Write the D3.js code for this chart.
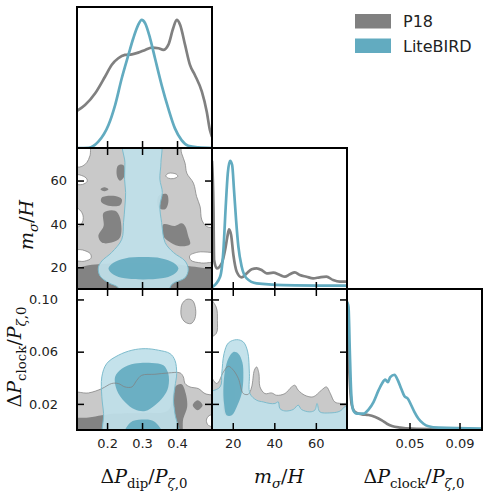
<!DOCTYPE html>
<html>
<head>
<meta charset="utf-8">
<script src="https://cdn.jsdelivr.net/npm/d3@7"></script>
<style>
  body { margin: 0; background: #fff; }
  svg { display: block; }
</style>
</head>
<body>
<div class="corner"></div>
<script>
// 1D marginals, [value, density] with the peak normalised to 1
const dipP18 = [[0.114,0.289],[0.137,0.335],[0.166,0.427],[0.194,0.556],[0.213,0.648],[0.232,0.700],[0.251,0.726],[0.271,0.731],[0.289,0.744],[0.309,0.765],[0.328,0.783],[0.347,0.778],[0.361,0.765],[0.375,0.804],[0.389,0.934],[0.399,1.0],[0.409,0.960],[0.423,0.804],[0.437,0.648],[0.451,0.570],[0.471,0.439],[0.485,0.283],[0.494,0.140],[0.5,0.088]];
const dipLB = [[0.114,0],[0.147,0.002],[0.175,0.049],[0.204,0.179],[0.223,0.335],[0.242,0.544],[0.261,0.726],[0.275,0.856],[0.289,0.960],[0.299,1.0],[0.309,0.973],[0.323,0.856],[0.337,0.700],[0.356,0.491],[0.375,0.309],[0.394,0.153],[0.413,0.062],[0.432,0.018],[0.461,0.005],[0.5,0]];
const mP18 = [[10,1.0],[10.7,0.642],[11.0,0.226],[12.3,0.161],[14.7,0.200],[16.3,0.304],[17.4,0.408],[18.2,0.466],[19.2,0.421],[20.3,0.265],[21.9,0.135],[24.3,0.091],[26.7,0.122],[29.1,0.154],[31.5,0.161],[33.9,0.148],[36.3,0.122],[39.5,0.127],[42.7,0.109],[45.1,0.096],[47.5,0.115],[49.9,0.130],[52.3,0.109],[55.5,0.096],[58.7,0.083],[61.9,0.091],[65.1,0.096],[68.3,0.070],[71.5,0.057],[75,0.057]];
const mLB = [[10,0.013],[13.9,0.096],[15.5,0.304],[16.6,0.642],[17.6,0.903],[18.7,1.0],[19.7,0.967],[20.6,0.772],[21.6,0.538],[22.7,0.330],[24.3,0.174],[26.7,0.083],[31.5,0.044],[44.3,0.031],[75,0.026]];
const clockP18 = [[0,1.0],[0.0018,0.466],[0.0039,0.193],[0.0066,0.140],[0.0119,0.122],[0.0172,0.117],[0.0226,0.101],[0.0279,0.075],[0.0319,0.049],[0.0359,0.031],[0.0426,0.018],[0.0519,0.010],[0.0786,0.005],[0.108,0.003]];
const clockLB = [[0,1.0],[0.0012,0.96],[0.0023,0.595],[0.0034,0.283],[0.005,0.153],[0.0079,0.127],[0.0132,0.127],[0.0172,0.159],[0.0212,0.218],[0.0252,0.309],[0.0279,0.361],[0.0306,0.393],[0.0327,0.374],[0.0346,0.413],[0.038,0.431],[0.0407,0.387],[0.0434,0.322],[0.046,0.263],[0.0487,0.244],[0.0514,0.193],[0.054,0.140],[0.0572,0.088],[0.0612,0.049],[0.0652,0.029],[0.0732,0.018],[0.108,0.01]];

// 2D contours (68% inner / 95% outer), each a list of rings of [x, y]
// dip vs m_sigma
const dipM_P18_95 = [
  [[0.161,78],[0.151,71.4],[0.142,68.3],[0.128,66.5],[0.10,65.6],[0.10,63.2],[0.122,62.6],[0.140,61.2],[0.143,59.6],[0.130,58.2],[0.10,57.6],[0.10,47.8],[0.118,47.0],[0.130,44.5],[0.131,41.5],[0.120,38.8],[0.10,37.8],[0.10,28.8],[0.130,28.0],[0.152,26.3],[0.154,24.2],[0.135,22.8],[0.10,22.3],[0.09,5],[0.53,5],[0.53,21.6],[0.470,22.0],[0.440,23.2],[0.436,25.3],[0.460,27.0],[0.53,27.6],[0.51,37.5],[0.485,38.8],[0.471,41.8],[0.466,48.0],[0.456,52.6],[0.447,58.8],[0.428,63.4],[0.423,68.0],[0.413,72.6],[0.404,78]],
  [[0.368,62.2],[0.375,63.3],[0.387,63.4],[0.399,62.8],[0.402,61.9],[0.390,60.9],[0.375,61.1]]
];
const dipM_P18_68 = [
  [[0.09,17.0],[0.137,20.6],[0.175,21.4],[0.204,21.8],[0.30,21.6],[0.394,21.4],[0.432,20.6],[0.471,19.8],[0.53,18.0],[0.53,5],[0.09,5]],
  [[0.190,45.2],[0.223,46.1],[0.237,42.9],[0.237,33.7],[0.213,31.4],[0.185,31.4],[0.175,34.4],[0.190,39.1]],
  [[0.185,52.2],[0.223,52.9],[0.242,51.4],[0.237,48.6],[0.199,48.6],[0.183,50.2]],
  [[0.181,56.0],[0.192,56.9],[0.204,56.0],[0.192,55.1]],
  [[0.231,66.8],[0.247,67.1],[0.250,62.2],[0.237,59.9],[0.228,62.2]],
  [[0.347,52.9],[0.371,53.7],[0.375,49.9],[0.366,46.8],[0.347,47.5]],
  [[0.361,39.8],[0.394,39.1],[0.413,40.3],[0.423,39.1],[0.432,34.4],[0.437,30.6],[0.404,29.8],[0.375,32.1],[0.361,34.4]]
];
const dipM_LB_95 = [
  [[0.247,78],[0.251,68.3],[0.250,60.6],[0.253,54.5],[0.251,48.3],[0.247,40.6],[0.242,32.9],[0.213,26.8],[0.185,22.9],[0.175,19.8],[0.180,16.0],[0.204,12.9],[0.232,10.6],[0.242,5],[0.366,5],[0.385,12.1],[0.423,15.2],[0.432,19.1],[0.423,22.9],[0.390,26.8],[0.366,31.4],[0.356,40.6],[0.351,48.3],[0.358,54.5],[0.351,60.6],[0.354,68.3],[0.351,78]]
];
const dipM_LB_68 = [
  [[0.204,19.5],[0.218,22.1],[0.251,24.1],[0.304,24.7],[0.356,24.1],[0.390,22.1],[0.404,19.5],[0.390,16.7],[0.356,14.9],[0.304,14.4],[0.251,14.9],[0.218,16.7]]
];

// dip vs clock
const dipClock_P18_95 = [
  [[0.09,0.0279],[0.147,0.0284],[0.185,0.0317],[0.213,0.0356],[0.232,0.0356],[0.251,0.0330],[0.271,0.0330],[0.285,0.0381],[0.299,0.0419],[0.337,0.0427],[0.375,0.0437],[0.409,0.0437],[0.418,0.0407],[0.423,0.0356],[0.437,0.0330],[0.461,0.0317],[0.480,0.0279],[0.53,0.024],[0.53,-0.01],[0.09,-0.01]],
  [[0.411,0.0911],[0.415,0.0968],[0.428,0.1001],[0.444,0.0993],[0.453,0.0929],[0.451,0.0853],[0.440,0.0815],[0.423,0.0827],[0.413,0.0865]],
  [[0.52,0.0120],[0.492,0.0110],[0.484,0.0075],[0.490,0.0035],[0.52,0.0028]]
];
const dipClock_P18_68 = [
  [[0.09,0.0075],[0.147,0.0095],[0.185,0.0113],[0.223,0.0126],[0.299,0.0131],[0.375,0.0152],[0.394,0.0330],[0.413,0.0350],[0.425,0.0279],[0.429,0.0177],[0.418,0.0088],[0.404,-0.01],[0.09,-0.01]],
  [[0.445,0.0190],[0.459,0.0228],[0.473,0.0190],[0.459,0.0152]]
];
const dipClock_LB_95 = [
  [[0.194,-0.01],[0.190,0.0126],[0.185,0.0254],[0.185,0.0407],[0.199,0.0509],[0.232,0.0572],[0.271,0.0611],[0.309,0.0623],[0.347,0.0611],[0.380,0.0585],[0.394,0.0534],[0.399,0.0432],[0.394,0.0330],[0.390,0.0228],[0.394,0.0126],[0.404,-0.01]]
];
const dipClock_LB_68 = [
  [[0.223,0.0407],[0.242,0.0470],[0.280,0.0509],[0.328,0.0514],[0.361,0.0496],[0.375,0.0432],[0.375,0.0330],[0.361,0.0254],[0.337,0.0190],[0.309,0.0146],[0.280,0.0157],[0.251,0.0215],[0.228,0.0305]],
  [[0.242,-0.01],[0.266,0.0055],[0.299,0.0080],[0.337,0.0062],[0.366,-0.01]]
];

// m_sigma vs clock
const mClock_P18_95 = [
  [[8,0.0432],[12.3,0.0356],[15.5,0.0445],[17.9,0.0488],[20.3,0.0458],[22.7,0.0394],[25.1,0.0279],[27.5,0.0274],[29.1,0.0330],[30.4,0.0458],[31.5,0.0483],[32.6,0.0432],[33.1,0.0330],[35.5,0.0279],[38.7,0.0284],[41.1,0.0266],[45.1,0.0279],[48.3,0.0330],[49.9,0.0343],[51.5,0.0305],[54.7,0.0266],[58.7,0.0254],[62.7,0.0305],[65.1,0.0330],[67.0,0.0279],[69.1,0.0215],[72.3,0.0203],[80,0.0197],[80,-0.01],[5,-0.01]],
  [[8,0.1019],[12.0,0.0942],[12.6,0.0840],[12.0,0.0738],[8,0.0713]]
];
const mClock_P18_68 = [
  [[15.5,0.0330],[17.9,0.0411],[20.3,0.0356],[21.1,0.0228],[19.5,0.0113],[16.3,0.0113],[15.2,0.0228]]
];
const mClock_LB_95 = [
  [[5,0.0254],[13.9,0.0330],[14.7,0.0432],[15.8,0.0585],[17.9,0.0667],[21.9,0.0692],[25.1,0.0674],[27.2,0.0598],[28.0,0.0432],[28.3,0.0279],[31.5,0.0228],[34.7,0.0215],[37.9,0.0203],[40.3,0.0203],[41.9,0.0215],[42.7,0.0164],[45.1,0.0146],[49.1,0.0157],[51.5,0.0190],[53.1,0.0157],[57.1,0.0139],[59.5,0.0152],[60.6,0.0203],[61.9,0.0139],[66.7,0.0131],[70.7,0.0139],[72.3,0.0152],[73.9,0.0177],[80,0.0177],[80,-0.01],[5,-0.01]]
];
const mClock_LB_68 = [
  [[16.3,0.0458],[17.9,0.0547],[20.3,0.0598],[22.7,0.0585],[24.6,0.0521],[25.1,0.0407],[24.3,0.0279],[21.9,0.0177],[19.5,0.0113],[17.1,0.0113],[15.8,0.0203],[15.5,0.0330]]
];

// ticks and legend
const dipTicks = [0.2, 0.3, 0.4];
const mTicks = [20, 40, 60];
const clockTicksX = [0.05, 0.09];
const clockTicksY = [0.02, 0.06, 0.10];
const seriesNames = ["P18", "LiteBIRD"];
const seriesColors = ["#808080", "#62abc0"];

const width = 487, height = 498;
const svg = d3.select(".corner").append("svg")
    .attr("width", width)
    .attr("height", height);

const colX = [77, 212, 347], rowY = [7, 148, 289], pw = 135, ph = 141;

const xDip = d3.scaleLinear().domain([0.114, 0.5]).range([colX[0], colX[0] + pw]);
const xM = d3.scaleLinear().domain([10, 75]).range([colX[1], colX[1] + pw]);
const xClock = d3.scaleLinear().domain([0, 0.108]).range([colX[2], colX[2] + pw]);
const yM = d3.scaleLinear().domain([10, 75]).range([rowY[1] + ph, rowY[1]]);
const yClock = d3.scaleLinear().domain([0, 0.108]).range([rowY[2] + ph, rowY[2]]);
const yDens = rowY.map(t => d3.scaleLinear().domain([0, 1.1]).range([t + ph, t]));

let clipCount = 0;
function panel(c, r) {
    const id = "clip" + (clipCount++);
    svg.append("clipPath").attr("id", id)
        .append("rect")
        .attr("x", colX[c]).attr("y", rowY[r])
        .attr("width", pw).attr("height", ph);
    return svg.append("g").attr("clip-path", `url(#${id})`);
}

function ringsPath(rings, x, y) {
    const line = d3.line()
        .x(d => x(d[0]))
        .y(d => y(d[1]))
        .curve(d3.curveCatmullRomClosed.alpha(0.5));
    return rings.map(r => line(r)).join(" ");
}

function draw2D(c, r, x, y, p95, p68, l95, l68) {
    const g = panel(c, r);
    g.append("path").attr("d", ringsPath(p95, x, y))
        .attr("fill", "#c9c9c9").attr("fill-rule", "evenodd");
    g.append("path").attr("d", ringsPath(p68, x, y))
        .attr("fill", "#838383").attr("fill-rule", "evenodd");
    g.append("path").attr("d", ringsPath(l95, x, y))
        .attr("fill", "#c0e0e9").attr("fill-opacity", 0.93).attr("fill-rule", "evenodd");
    g.append("path").attr("d", ringsPath(l68, x, y))
        .attr("fill", "#5fa8be").attr("fill-opacity", 0.88).attr("fill-rule", "evenodd");
    // contour edges on top
    g.append("path").attr("d", ringsPath(p95, x, y))
        .attr("fill", "none").attr("stroke", "#808080").attr("stroke-opacity", 0.75).attr("stroke-width", 1);
    g.append("path").attr("d", ringsPath(l95, x, y))
        .attr("fill", "none").attr("stroke", "#7dbccd").attr("stroke-width", 1);
}

function draw1D(c, x, p18, lb) {
    const g = panel(c, c);
    const line = d3.line()
        .x(d => x(d[0]))
        .y(d => yDens[c](d[1]))
        .curve(d3.curveMonotoneX);
    [p18, lb].forEach((s, i) => {
        g.append("path")
            .attr("d", line(s))
            .attr("fill", "none")
            .attr("stroke", seriesColors[i])
            .attr("stroke-width", 2.7)
            .attr("stroke-linejoin", "round");
    });
}

draw2D(0, 1, xDip, yM, dipM_P18_95, dipM_P18_68, dipM_LB_95, dipM_LB_68);
draw2D(0, 2, xDip, yClock, dipClock_P18_95, dipClock_P18_68, dipClock_LB_95, dipClock_LB_68);
draw2D(1, 2, xM, yClock, mClock_P18_95, mClock_P18_68, mClock_LB_95, mClock_LB_68);
draw1D(0, xDip, dipP18, dipLB);
draw1D(1, xM, mP18, mLB);
draw1D(2, xClock, clockP18, clockLB);

// ticks, all pointing inward
function axes(c, r, x, y, xt, yt, o) {
    const bx = colX[c], by = rowY[r];
    const g = svg.append("g");
    g.append("g").attr("transform", `translate(0,${by + ph})`)
        .call(d3.axisBottom(x).tickValues(xt).tickSize(-7).tickPadding(9)
            .tickFormat(o.xFmt ? d3.format(o.xFmt) : ""));
    if (y) {
        g.append("g").attr("transform", `translate(0,${by})`)
            .call(d3.axisTop(x).tickValues(xt).tickSize(-7).tickFormat(""));
        g.append("g").attr("transform", `translate(${bx},0)`)
            .call(d3.axisLeft(y).tickValues(yt).tickSize(-7).tickPadding(o.yPad || 10)
                .tickFormat(o.yFmt ? d3.format(o.yFmt) : ""));
        g.append("g").attr("transform", `translate(${bx + pw},0)`)
            .call(d3.axisRight(y).tickValues(yt).tickSize(-7).tickFormat(""));
    }
    g.selectAll(".domain").remove();
    g.selectAll(".tick line").attr("stroke", "#000").attr("stroke-width", 1.5);
    g.selectAll(".tick text")
        .attr("font-family", "DejaVu Sans")
        .attr("font-size", 13)
        .attr("fill", "#222");
}

axes(0, 0, xDip, null, dipTicks, null, {});
axes(1, 1, xM, null, mTicks, null, {});
axes(2, 2, xClock, null, clockTicksX, null, {xFmt: ".2f"});
axes(0, 1, xDip, yM, dipTicks, mTicks, {yFmt: "d"});
axes(0, 2, xDip, yClock, dipTicks, clockTicksY, {xFmt: ".1f", yFmt: ".2f", yPad: 19});
axes(1, 2, xM, yClock, mTicks, clockTicksY, {xFmt: "d"});

// panel frames
[[0, 0], [0, 1], [1, 1], [0, 2], [1, 2], [2, 2]].forEach(([c, r]) => {
    svg.append("rect")
        .attr("x", colX[c]).attr("y", rowY[r])
        .attr("width", pw).attr("height", ph)
        .attr("fill", "none")
        .attr("stroke", "#000")
        .attr("stroke-width", 2);
});

// math-style axis labels
const dipLabel = [{t: "Δ"}, {t: "P", i: 1}, {t: "dip", s: 1}, {t: "/"}, {t: "P", i: 1}, {t: "ζ", i: 1, s: 1}, {t: ",0", s: 1}];
const mLabel = [{t: "m", i: 1}, {t: "σ", i: 1, s: 1}, {t: "/"}, {t: "H", i: 1}];
const clockLabel = [{t: "Δ"}, {t: "P", i: 1}, {t: "clock", s: 1}, {t: "/"}, {t: "P", i: 1}, {t: "ζ", i: 1, s: 1}, {t: ",0", s: 1}];

function mathLabel(parts, tx, ty, rot) {
    const size = 19;
    const text = svg.append("text")
        .attr("transform", `translate(${tx},${ty})` + (rot ? " rotate(-90)" : ""))
        .attr("text-anchor", "middle")
        .attr("font-family", "DejaVu Serif")
        .attr("font-size", size)
        .attr("fill", "#111");
    let down = false;
    parts.forEach(p => {
        const ts = text.append("tspan").text(p.t);
        if (p.i) ts.attr("font-style", "italic");
        if (p.s) {
            ts.attr("font-size", size * 0.7);
            if (!down) { ts.attr("dy", size * 0.25); down = true; }
        } else if (down) {
            ts.attr("dy", -size * 0.25);
            down = false;
        }
    });
}

mathLabel(dipLabel, 144, 483, false);
mathLabel(mLabel, 279, 483, false);
mathLabel(clockLabel, 414, 483, false);
mathLabel(mLabel, 33, 225, true);
mathLabel(clockLabel, 21, 357, true);

// legend
const legend = svg.append("g").selectAll("g")
    .data(seriesNames)
    .join("g")
    .attr("transform", (d, i) => `translate(355,${14 + i * 24.5})`);
legend.append("rect")
    .attr("width", 36).attr("height", 14.5)
    .attr("fill", (d, i) => seriesColors[i]);
legend.append("text")
    .attr("x", 48).attr("y", 13)
    .attr("font-family", "DejaVu Sans")
    .attr("font-size", 16)
    .attr("fill", "#222")
    .text(d => d);
</script>
</body>
</html>
